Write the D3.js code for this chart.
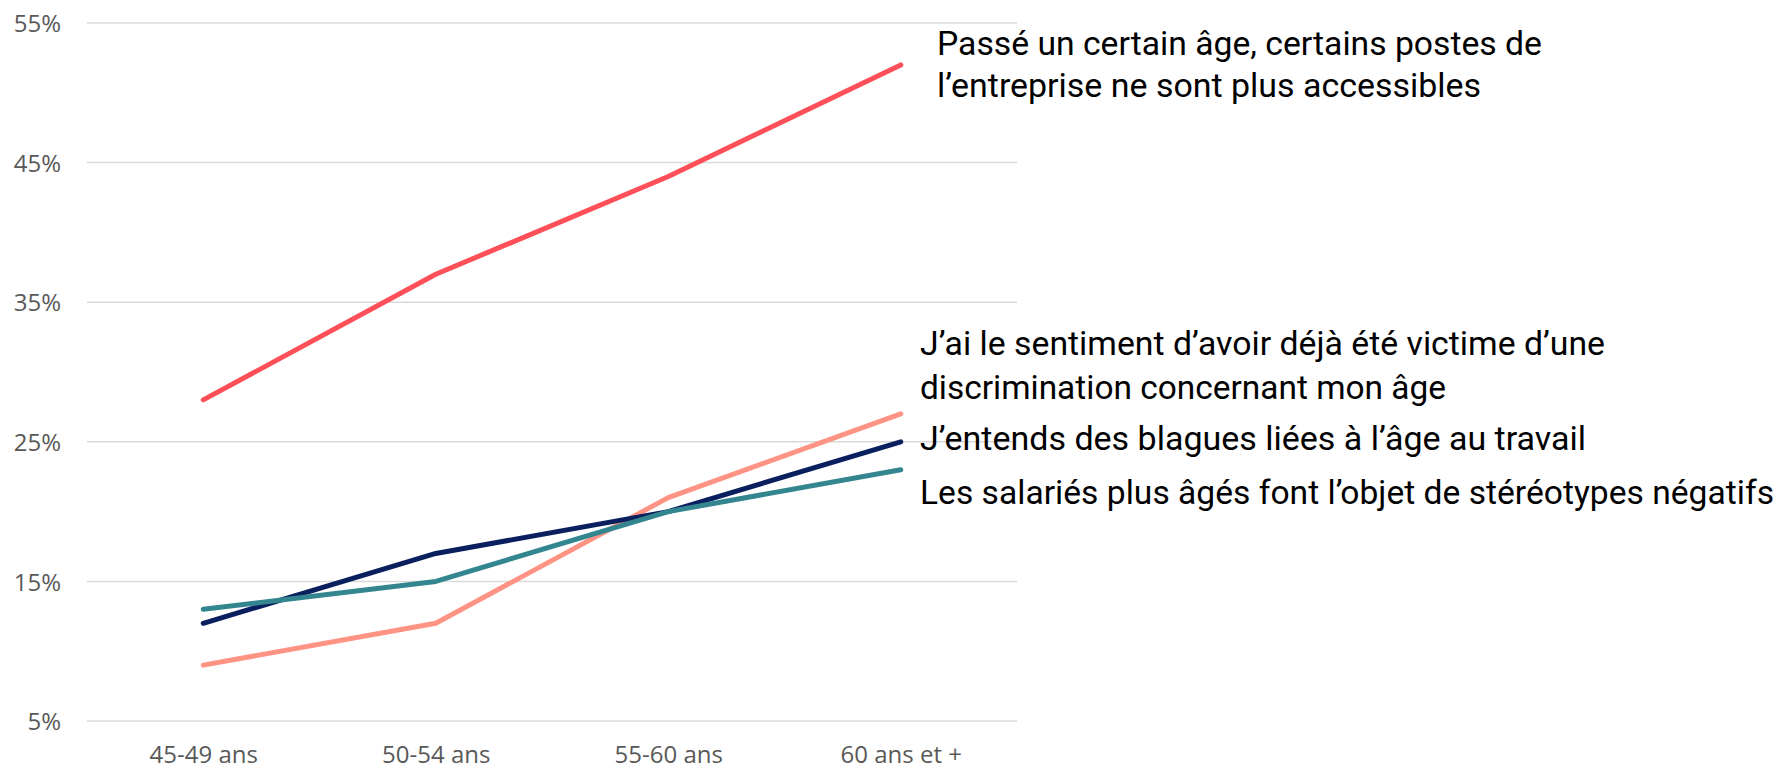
<!DOCTYPE html>
<html>
<head>
<meta charset="utf-8">
<script src="https://cdn.jsdelivr.net/npm/d3@7/dist/d3.min.js"></script>
<style>
  html, body { margin: 0; padding: 0; background: #fff; }
  svg { display: block; }
</style>
</head>
<body>
<svg id="chart" width="1785" height="769"></svg>
<script>
// ---- Data ----
const categories = ["45-49 ans", "50-54 ans", "55-60 ans", "60 ans et +"];
const yTicks = [5, 15, 25, 35, 45, 55];

const postesValues       = [28, 37, 44, 52];
const discriminationVals = [9, 12, 21, 27];
const blaguesValues      = [12, 17, 20, 25];
const stereotypesValues  = [13, 15, 20, 23];

const seriesNames = [
  ["Passé un certain âge, certains postes de", "l’entreprise ne sont plus accessibles"],
  ["J’ai le sentiment d’avoir déjà été victime d’une", "discrimination concernant mon âge"],
  ["J’entends des blagues liées à l’âge au travail"],
  ["Les salariés plus âgés font l’objet de stéréotypes négatifs"]
];

// ---- Layout / style ----
const colors = ["#FF4F58", "#FF9384", "#0A1F5E", "#338690"];
const series = [
  { values: postesValues, color: colors[0] },
  { values: discriminationVals, color: colors[1] },
  { values: blaguesValues, color: colors[2] },
  { values: stereotypesValues, color: colors[3] }
];

const plot = { left: 87, right: 1017, top: 23, bottom: 721 };

const svg = d3.select("#chart");

const x = d3.scalePoint().domain(categories).range([plot.left, plot.right]).padding(0.5);
const y = d3.scaleLinear().domain([5, 55]).range([plot.bottom, plot.top]);

// gridlines
svg.append("g").selectAll("line").data(yTicks).join("line")
  .attr("x1", plot.left).attr("x2", plot.right)
  .attr("y1", d => y(d)).attr("y2", d => y(d))
  .attr("stroke", "#d9d9d9").attr("stroke-width", 1.5);

// y axis labels
const yAxis = d3.axisLeft(y).tickValues(yTicks).tickFormat(d => d + "%").tickSize(0).tickPadding(0);
const gy = svg.append("g").attr("transform", `translate(61,0)`).call(yAxis);
gy.select(".domain").remove();
gy.selectAll("text")
  .attr("font-family", "'Open Sans', sans-serif")
  .attr("font-size", 24)
  .attr("fill", "#595959")
  .attr("dy", "0.36em");

// x axis labels
const xAxis = d3.axisBottom(x).tickSize(0).tickPadding(0);
const gx = svg.append("g").attr("transform", `translate(0,745)`).call(xAxis);
gx.select(".domain").remove();
gx.selectAll("text")
  .attr("font-family", "'Open Sans', sans-serif")
  .attr("font-size", 24)
  .attr("fill", "#595959")
  .attr("dy", "0.74em");

// lines
const line = d3.line().x((d, i) => x(categories[i])).y(d => y(d));
svg.append("g").selectAll("path").data(series).join("path")
  .attr("d", d => line(d.values))
  .attr("fill", "none")
  .attr("stroke", d => d.color)
  .attr("stroke-width", 5)
  .attr("stroke-linejoin", "round")
  .attr("stroke-linecap", "round");

// labels (condensed look via textLength)
const labelLayout = [
  { x: 937, baselines: [55, 97], widths: [605, 544] },
  { x: 920, baselines: [355, 399], widths: [685, 526] },
  { x: 920, baselines: [450], widths: [666] },
  { x: 920, baselines: [504], widths: [854] }
];
const lg = svg.append("g");
seriesNames.forEach((lines, si) => {
  const L = labelLayout[si];
  lines.forEach((txt, li) => {
    lg.append("text")
      .attr("x", L.x)
      .attr("y", L.baselines[li])
      .attr("font-family", "Roboto, 'Open Sans', sans-serif")
      .attr("font-size", 34)
      .attr("fill", "#000")
      .attr("textLength", L.widths[li])
      .attr("lengthAdjust", "spacingAndGlyphs")
      .text(txt);
  });
});
</script>
</body>
</html>
